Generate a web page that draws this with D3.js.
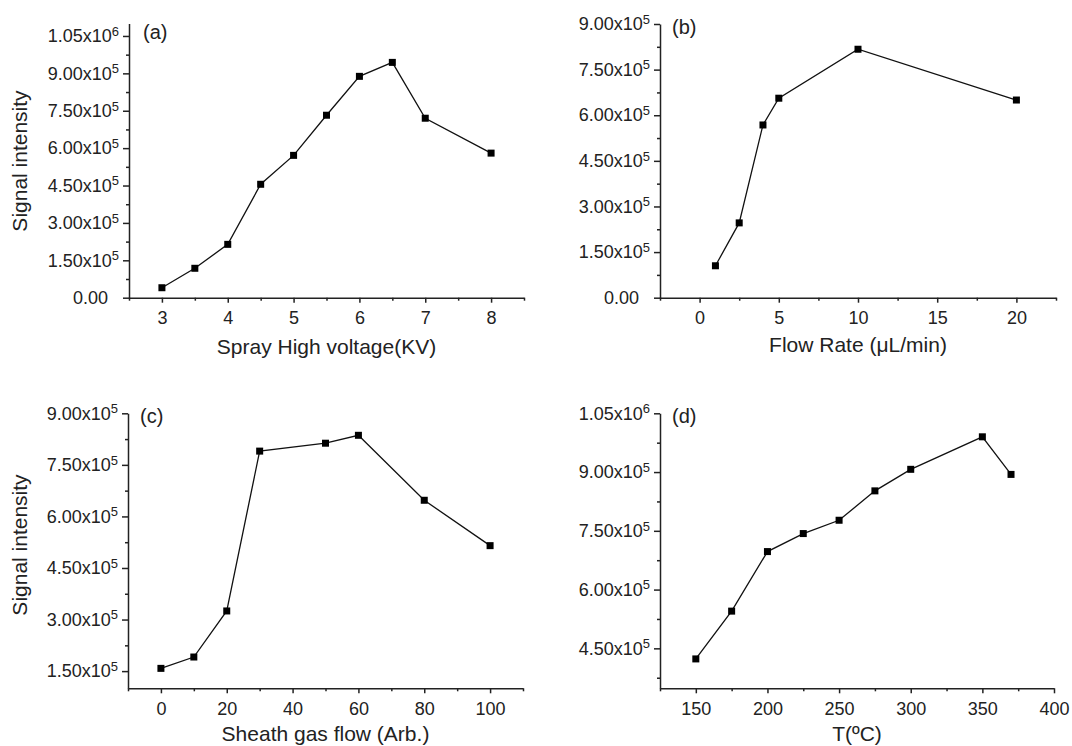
<!DOCTYPE html>
<html>
<head>
<meta charset="utf-8">
<script src="https://cdn.jsdelivr.net/npm/d3@7"></script>
<style>
  body { margin: 0; background: #fff; }
  svg text { font-family: "Liberation Sans", Arial, sans-serif; fill: #222; }
  .domain, .tick line { stroke: #222; stroke-width: 1.5; }
</style>
</head>
<body>
<svg id="chart" width="1072" height="746"></svg>
<script>

// (a) spray voltage
var voltageKV = [3, 3.5, 4, 4.5, 5, 5.5, 6, 6.5, 7, 8];
var voltageSignal = [4.0e4, 1.18e5, 2.14e5, 4.55e5, 5.71e5, 7.32e5, 8.88e5, 9.44e5, 7.2e5, 5.8e5];

// (b) flow rate
var flowRate = [1, 2.5, 4, 5, 10, 20];
var flowSignal = [1.05e5, 2.46e5, 5.68e5, 6.56e5, 8.17e5, 6.5e5];

// (c) sheath gas
var sheathGas = [0, 10, 20, 30, 50, 60, 80, 100];
var sheathSignal = [1.58e5, 1.91e5, 3.25e5, 7.9e5, 8.13e5, 8.36e5, 6.47e5, 5.15e5];

// (d) temperature
var tempC = [150, 175, 200, 225, 250, 275, 300, 350, 370];
var tempSignal = [4.23e5, 5.45e5, 6.97e5, 7.43e5, 7.77e5, 8.52e5, 9.07e5, 9.90e5, 8.94e5];

// tick values
var xTicksA = [3, 4, 5, 6, 7, 8];
var xTicksB = [0, 5, 10, 15, 20];
var xTicksC = [0, 20, 40, 60, 80, 100];
var xTicksD = [150, 200, 250, 300, 350, 400];
var yTicksA = [0, 1.5e5, 3.0e5, 4.5e5, 6.0e5, 7.5e5, 9.0e5, 1.05e6];
var yTicksB = [0, 1.5e5, 3.0e5, 4.5e5, 6.0e5, 7.5e5, 9.0e5];
var yTicksC = [1.5e5, 3.0e5, 4.5e5, 6.0e5, 7.5e5, 9.0e5];
var yTicksD = [4.5e5, 6.0e5, 7.5e5, 9.0e5, 1.05e6];

var panels = [
  { tag: '(a)', xs: voltageKV, ys: voltageSignal, xDom: [2.5, 8.5], yDom: [0, 1.1e6],
    xt: xTicksA, xMinor: 0.5, yt: yTicksA, xTitle: 'Spray High voltage(KV)', yTitle: 'Signal intensity',
    left: 129, right: 524, top: 23.5, bottom: 297.7, tagX: 143, tagY: 39, titleY: 354, yTitleY: 161 },
  { tag: '(b)', xs: flowRate, ys: flowSignal, xDom: [-2.5, 22.5], yDom: [0, 9e5],
    xt: xTicksB, xMinor: 2.5, yt: yTicksB, xTitle: 'Flow Rate (\u03bcL/min)', yTitle: null,
    left: 660, right: 1056, top: 24, bottom: 297.7, tagX: 672, tagY: 34, titleY: 352 },
  { tag: '(c)', xs: sheathGas, ys: sheathSignal, xDom: [-10, 110], yDom: [1e5, 9e5],
    xt: xTicksC, xMinor: 10, yt: yTicksC, xTitle: 'Sheath gas flow (Arb.)', yTitle: 'Signal intensity',
    left: 128, right: 523, top: 413.3, bottom: 688.3, tagX: 140, tagY: 423, titleY: 741, yTitleY: 545 },
  { tag: '(d)', xs: tempC, ys: tempSignal, xDom: [125, 400], yDom: [3.48e5, 1.05e6],
    xt: xTicksD, xMinor: 25, yt: yTicksD, xTitle: 'T(\u00baC)', yTitle: null,
    left: 660, right: 1054, top: 413.3, bottom: 688.3, tagX: 672, tagY: 423, titleY: 741 }
];

var svg = d3.select('#chart');

function minorTicks(dom, step, majors) {
  var out = [];
  var start = Math.ceil(dom[0] / step - 1e-9) * step;
  for (var v = start; v <= dom[1] + 1e-9; v += step) {
    var isMajor = majors.some(function(m) { return Math.abs(m - v) < step * 1e-6; });
    if (!isMajor) out.push(v);
  }
  return out;
}

// y labels like 1.05x10^6 with a raised exponent
function sciLabel(sel) {
  sel.each(function(d) {
    var t = d3.select(this).text('');
    if (d === 0) { t.attr('dx', -11).text('0.00'); return; }
    var e = Math.floor(Math.log10(d) + 1e-9);
    var m = (d / Math.pow(10, e)).toFixed(2);
    t.append('tspan').text(m + 'x10');
    t.append('tspan').attr('dy', '-0.5em').attr('font-size', '13px').text(e);
  });
}

function drawPanel(p) {
  var x = d3.scaleLinear().domain(p.xDom).range([p.left, p.right]);
  var y = d3.scaleLinear().domain(p.yDom).range([p.bottom, p.top]);
  var g = svg.append('g');

  // minor ticks first
  g.append('g').attr('transform', 'translate(0,' + p.bottom + ')')
    .call(d3.axisBottom(x).tickValues(minorTicks(p.xDom, p.xMinor, p.xt)).tickSize(3).tickFormat(''))
    .select('.domain').remove();
  g.append('g').attr('transform', 'translate(' + p.left + ',0)')
    .call(d3.axisLeft(y).tickValues(minorTicks(p.yDom, 7.5e4, p.yt)).tickSize(3).tickFormat(''))
    .select('.domain').remove();

  var xa = g.append('g').attr('transform', 'translate(0,' + p.bottom + ')')
    .call(d3.axisBottom(x).tickValues(p.xt).tickSize(5).tickSizeOuter(0).tickPadding(9)
      .tickFormat(d3.format('d')));
  xa.selectAll('text').attr('font-size', '18px');

  var ya = g.append('g').attr('transform', 'translate(' + p.left + ',0)')
    .call(d3.axisLeft(y).tickValues(p.yt).tickSize(6).tickSizeOuter(0).tickPadding(4));
  ya.selectAll('text').attr('font-size', '18px').call(sciLabel);

  var line = d3.line().x(function(d) { return x(d[0]); }).y(function(d) { return y(d[1]); });
  var pts = d3.zip(p.xs, p.ys);
  g.append('path').datum(pts).attr('d', line)
    .attr('fill', 'none').attr('stroke', '#111').attr('stroke-width', 1.3);
  g.selectAll('rect.pt').data(pts).enter().append('rect').attr('class', 'pt')
    .attr('x', function(d) { return x(d[0]) - 3.5; })
    .attr('y', function(d) { return y(d[1]) - 3.5; })
    .attr('width', 7).attr('height', 7).attr('fill', '#000');

  g.append('text').attr('x', p.tagX).attr('y', p.tagY).attr('font-size', '20px').text(p.tag);
  g.append('text').attr('x', (p.left + p.right) / 2).attr('y', p.titleY)
    .attr('text-anchor', 'middle').attr('font-size', '21px').text(p.xTitle);
  if (p.yTitle) {
    g.append('text').attr('transform', 'translate(27,' + p.yTitleY + ') rotate(-90)')
      .attr('text-anchor', 'middle').attr('font-size', '21px').text(p.yTitle);
  }
}

panels.forEach(drawPanel);
</script>
</body>
</html>
